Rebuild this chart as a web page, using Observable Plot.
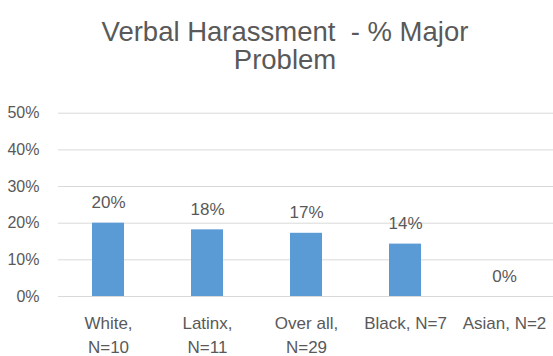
<!DOCTYPE html>
<html>
<head>
<meta charset="utf-8">
<script src="https://cdn.jsdelivr.net/npm/d3@7"></script>
<script src="https://cdn.jsdelivr.net/npm/@observablehq/plot@0.6"></script>
<style>
  html, body { margin: 0; padding: 0; background: #fff; width: 553px; height: 356px; overflow: hidden; }
  #title {
    box-sizing: border-box;
    width: 553px; height: 92px;
    padding-top: 17.5px; padding-left: 17px;
    font-family: "Liberation Sans", Arial, sans-serif;
    font-size: 27.5px; line-height: 28px;
    color: #595959; text-align: center;
  }
  svg { display: block; }
</style>
</head>
<body>
<div id="title">Verbal Harassment&nbsp; - % Major<br>Problem</div>
<div id="chart"></div>
<script>
const categories = ["White, N=10", "Latinx, N=11", "Over all, N=29", "Black, N=7", "Asian, N=2"];
const tickLabels = ["White,\nN=10", "Latinx,\nN=11", "Over all,\nN=29", "Black, N=7\n", "Asian, N=2\n"];
const values = [0.2, 0.1818, 0.1724, 0.1429, 0];
const yTicks = [0, 0.1, 0.2, 0.3, 0.4, 0.5];

const data = categories.map((c, i) => ({category: c, value: values[i]}));
const labelOf = new Map(categories.map((c, i) => [c, tickLabels[i]]));
const pct = d3.format(".0%");

const chart = Plot.plot({
  width: 553,
  height: 264,
  marginTop: 20.7,
  marginBottom: 60,
  marginLeft: 58,
  marginRight: 0,
  style: {fontFamily: "'Liberation Sans', Arial, sans-serif", color: "#595959", background: "#fff"},
  x: {domain: categories, paddingInner: 0.68, paddingOuter: 0.34, align: 0.5},
  y: {domain: [0, 0.5]},
  marks: [
    Plot.ruleY(yTicks, {stroke: "#d9d9d9", strokeWidth: 1}),
    Plot.barY(data, {x: "category", y: "value", fill: "#5b9bd5"}),
    Plot.text(data, {x: "category", y: "value", text: d => pct(d.value), lineAnchor: "bottom", dy: -15, fontSize: 17, fill: "#595959"}),
    Plot.axisY({ticks: yTicks, tickFormat: pct, tickSize: 0, tickPadding: 19, fontSize: 16, fill: "#595959", label: null}),
    Plot.axisX({tickSize: 0, tickPadding: 15, tickFormat: d => labelOf.get(d), lineHeight: 1.42, fontSize: 17, fill: "#595959", label: null})
  ]
});
document.getElementById("chart").appendChild(chart);
</script>
</body>
</html>
